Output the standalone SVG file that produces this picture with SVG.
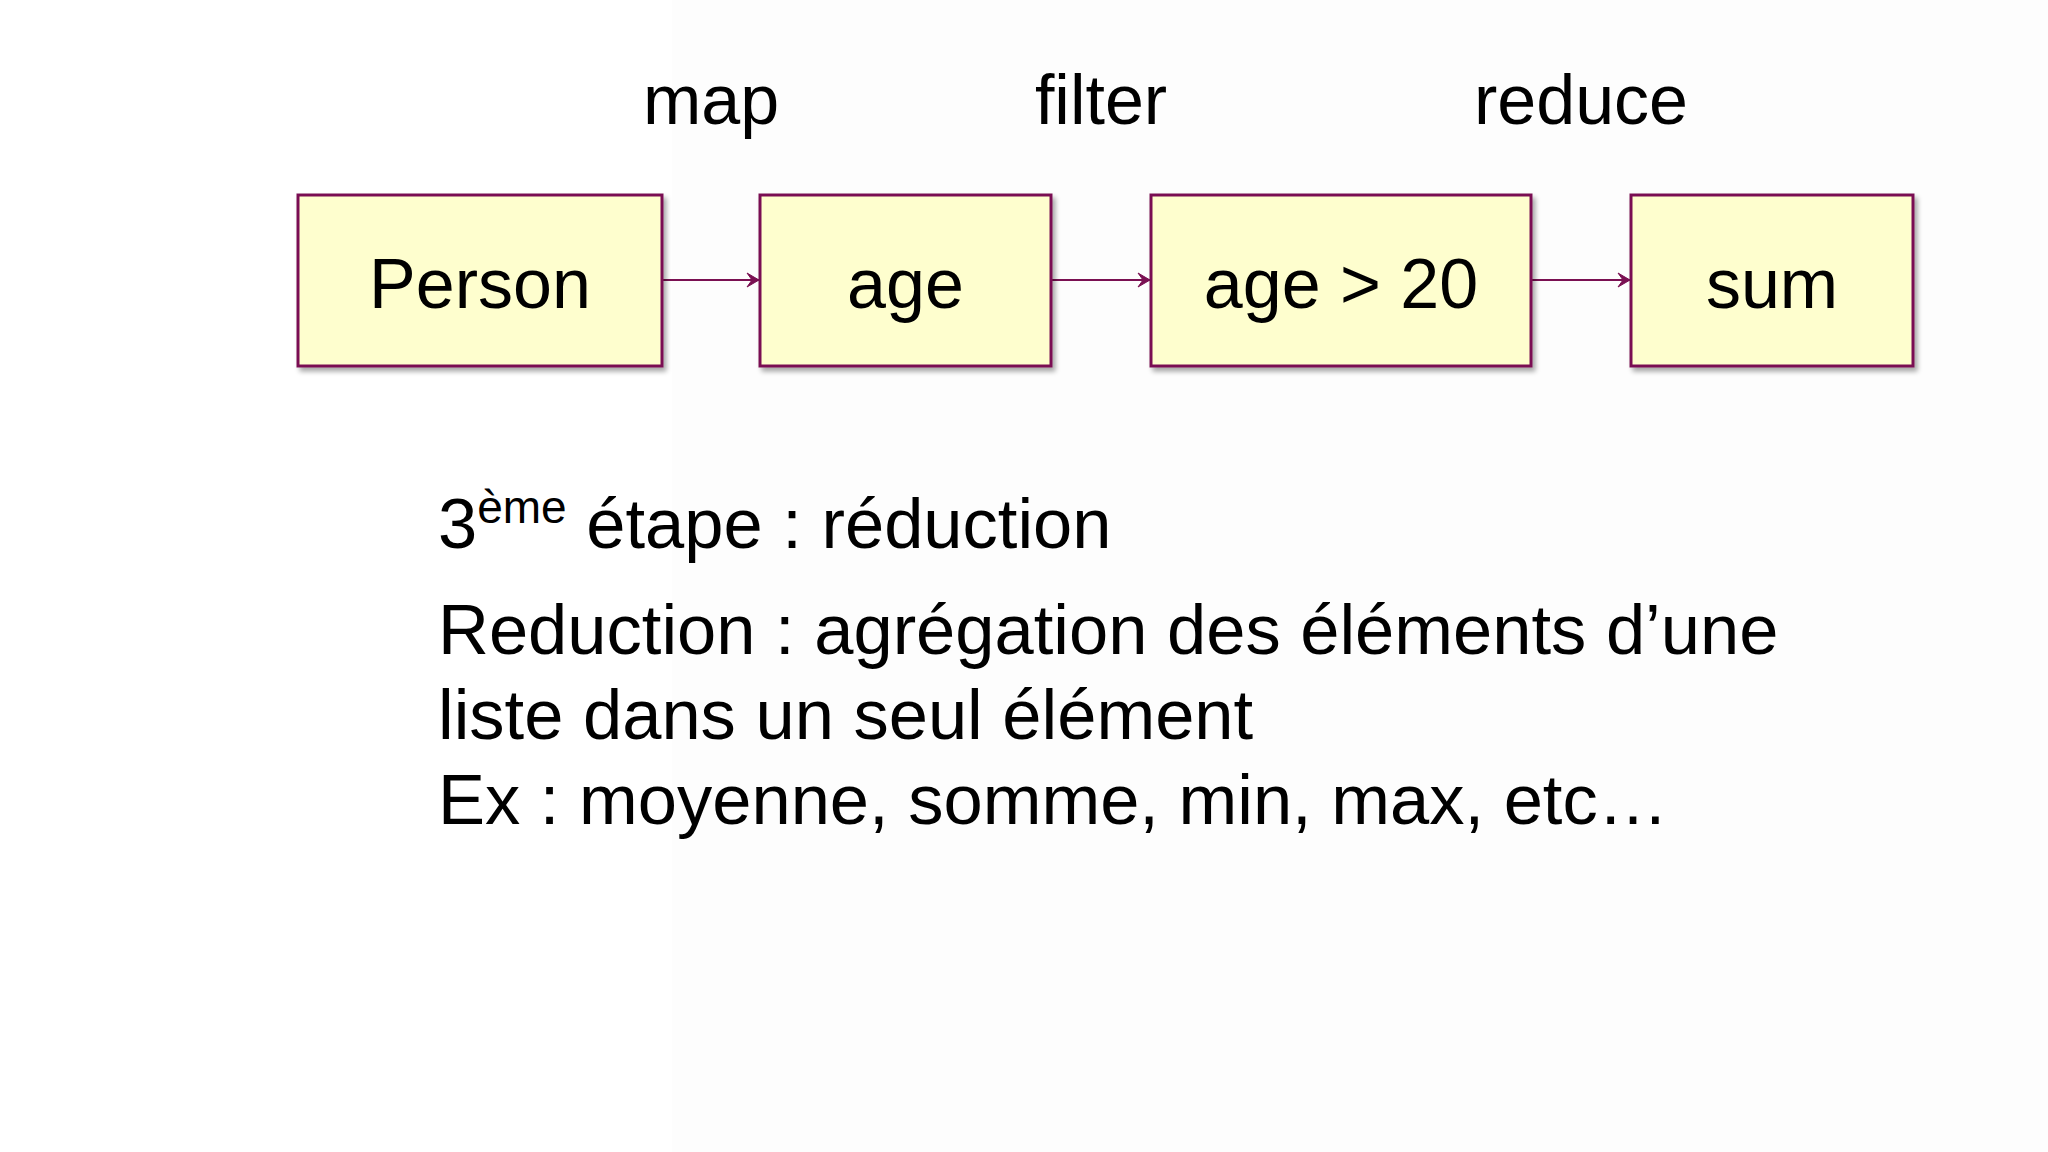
<svg xmlns="http://www.w3.org/2000/svg" width="2048" height="1152" viewBox="0 0 2048 1152">
  <style>
    .box { fill: #FEFECE; stroke: #7A1052; stroke-width: 3; }
    .lbl { font-family: "Liberation Sans", Arial, sans-serif; font-size: 70px; fill: #000; }
    .desc { font-size: 70.5px; }
    .mid { text-anchor: middle; }
    .conn { stroke: #7A1052; stroke-width: 2.2; fill: none; }
  </style>
  <defs>
    <filter id="shadow" x="-10%" y="-10%" width="125%" height="130%">
      <feGaussianBlur in="SourceAlpha" stdDeviation="2.5"/>
      <feOffset dx="3" dy="4" result="b"/>
      <feComponentTransfer><feFuncA type="linear" slope="0.35"/></feComponentTransfer>
      <feMerge><feMergeNode/><feMergeNode in="SourceGraphic"/></feMerge>
    </filter>
    <marker id="arrow" viewBox="0 0 14 16" refX="13" refY="8" markerWidth="14" markerHeight="16" markerUnits="userSpaceOnUse" orient="auto">
      <path d="M13,8 L1,1 L6,8 L1,15 Z" fill="#7A1052" stroke="#7A1052" stroke-width="1"/>
    </marker>
  </defs>
  <rect width="2048" height="1152" fill="#ffffff"/>
  <rect x="672" y="0" width="1376" height="1152" fill="#fdfdfd"/>

  <g id="labels">
    <text class="lbl mid" x="711" y="124">map</text>
    <text class="lbl mid" x="1101" y="124">filter</text>
    <text class="lbl mid" x="1581" y="124">reduce</text>
  </g>

  <g id="connectors">
    <line class="conn" x1="662" y1="280" x2="759" y2="280" marker-end="url(#arrow)"/>
    <line class="conn" x1="1051" y1="280" x2="1150" y2="280" marker-end="url(#arrow)"/>
    <line class="conn" x1="1531" y1="280" x2="1630" y2="280" marker-end="url(#arrow)"/>
  </g>

  <g id="node-person">
    <rect class="box" x="298" y="195" width="364" height="171" filter="url(#shadow)"/>
    <text class="lbl mid" x="480" y="308">Person</text>
  </g>
  <g id="node-age">
    <rect class="box" x="760" y="195" width="291" height="171" filter="url(#shadow)"/>
    <text class="lbl mid" x="905.5" y="308">age</text>
  </g>
  <g id="node-filter">
    <rect class="box" x="1151" y="195" width="380" height="171" filter="url(#shadow)"/>
    <text class="lbl mid" x="1341" y="308">age &gt; 20</text>
  </g>
  <g id="node-sum">
    <rect class="box" x="1631" y="195" width="282" height="171" filter="url(#shadow)"/>
    <text class="lbl mid" x="1772" y="308">sum</text>
  </g>

  <g id="description">
    <text class="lbl desc" x="438" y="548">3<tspan font-size="46" dy="-25">ème</tspan><tspan dy="25"> étape : réduction</tspan></text>
    <text class="lbl desc" x="438" y="654">Reduction : agrégation des éléments d’une</text>
    <text class="lbl desc" x="438" y="739">liste dans un seul élément</text>
    <text class="lbl desc" x="438" y="824">Ex : moyenne, somme, min, max, etc…</text>
  </g>
</svg>
